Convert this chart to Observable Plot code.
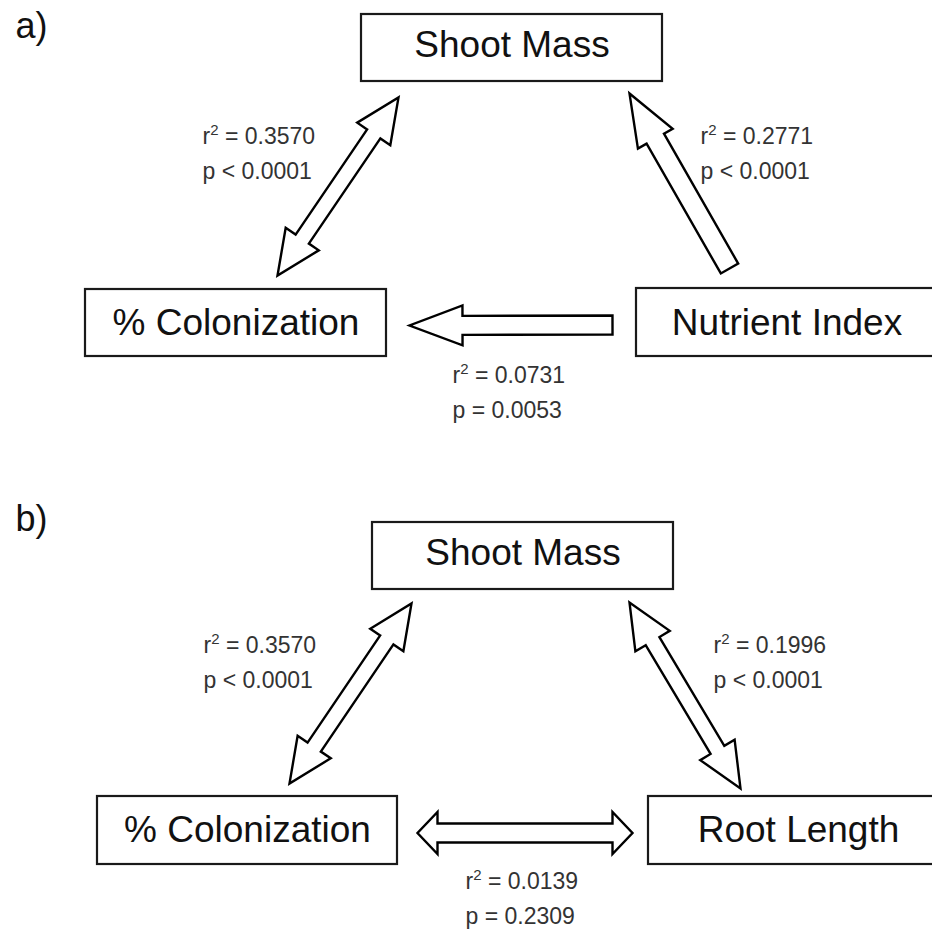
<!DOCTYPE html>
<html>
<head>
<meta charset="utf-8">
<script src="https://cdn.jsdelivr.net/npm/d3@7"></script>
<script src="https://cdn.jsdelivr.net/npm/@observablehq/plot@0.6"></script>
<style>
  html, body { margin: 0; padding: 0; background: #fff; overflow: hidden; }
</style>
</head>
<body>
<div id="chart"></div>
<script>
// ---- data ----
const panelLabels = ["a)", "b)"];
const nodesA = ["Shoot Mass", "% Colonization", "Nutrient Index"];
const nodesB = ["Shoot Mass", "% Colonization", "Root Length"];
// relationships: [left diagonal, right diagonal, bottom horizontal]
const r2A = ["0.3570", "0.2771", "0.0731"];
const pA  = ["< 0.0001", "< 0.0001", "= 0.0053"];
const r2B = ["0.3570", "0.1996", "0.0139"];
const pB  = ["< 0.0001", "< 0.0001", "= 0.2309"];

// ---- layout (pixel-space positions) ----
const panelPos = [[15, 37], [15, 530]];
const boxesA = [[361, 14, 662, 81], [85, 289, 386, 356], [636, 288, 937, 356]];
const boxesB = [[372, 522, 673, 589], [97, 796, 397, 864], [648, 796, 948, 864]];
const labelBaseA = [56, 334, 334];
const labelBaseB = [564, 841, 841];
// stat label: [x, baseline of r² line]
const statPosA = [[202, 143], [700, 143], [452, 382]];
const statPosB = [[203, 652], [713, 652], [465, 888]];
// arrows: start, end, headStart, headEnd, head length, head half-width, shaft half-width
const arrowsA = [
  {s: [277, 275], e: [398, 97], hs: true, he: true, L: 44, W: 20, h: 8},
  {s: [729, 268], e: [629, 93], hs: false, he: true, L: 52, W: 20, h: 10},
  {s: [612, 324.5], e: [409, 325], hs: false, he: true, L: 53, W: 20, h: 9.5}
];
const arrowsB = [
  {s: [289, 783], e: [411, 603], hs: true, he: true, L: 44, W: 20, h: 8},
  {s: [740, 788], e: [629, 602], hs: true, he: true, L: 45, W: 20, h: 8},
  {s: [417, 832.5], e: [632, 832.5], hs: true, he: true, L: 20, W: 21, h: 9.5}
];

// ---- build tables ----
const boxes = [];
const labels = [];
[[nodesA, boxesA, labelBaseA], [nodesB, boxesB, labelBaseB]].forEach(([names, bx, base]) => {
  names.forEach((name, i) => {
    const [x1, y1, x2, y2] = bx[i];
    boxes.push({x1, y1, x2, y2});
    labels.push({x: (x1 + x2) / 2, y: base[i], text: name});
  });
});

const r2Lines = [];
const pLines = [];
[[r2A, pA, statPosA], [r2B, pB, statPosB]].forEach(([r2, p, pos]) => {
  r2.forEach((v, i) => {
    const [x, y] = pos[i];
    r2Lines.push({x, y, text: "r2 = " + v, value: v});
    pLines.push({x, y: y + 35, text: "p " + p[i]});
  });
});

function arrowOutline(a, id) {
  const [sx, sy] = a.s, [ex, ey] = a.e;
  const len = Math.hypot(ex - sx, ey - sy);
  const ux = (ex - sx) / len, uy = (ey - sy) / len;
  const nx = -uy, ny = ux;
  const P = (bx, by, l, w) => ({x: bx + l * ux + w * nx, y: by + l * uy + w * ny, id});
  const pts = [];
  if (a.he) {
    pts.push(P(ex, ey, -a.L, -a.h), P(ex, ey, -a.L, -a.W), P(ex, ey, 0, 0), P(ex, ey, -a.L, a.W), P(ex, ey, -a.L, a.h));
  } else {
    pts.push(P(ex, ey, 0, -a.h), P(ex, ey, 0, a.h));
  }
  if (a.hs) {
    pts.push(P(sx, sy, a.L, a.h), P(sx, sy, a.L, a.W), P(sx, sy, 0, 0), P(sx, sy, a.L, -a.W), P(sx, sy, a.L, -a.h));
  } else {
    pts.push(P(sx, sy, 0, a.h), P(sx, sy, 0, -a.h));
  }
  return pts;
}
const arrowPts = [...arrowsA, ...arrowsB].flatMap((a, i) => arrowOutline(a, i));
const panels = panelLabels.map((t, i) => ({x: panelPos[i][0], y: panelPos[i][1], text: t}));

const chart = Plot.plot({
  width: 932,
  height: 932,
  margin: 0,
  x: {domain: [0, 932], range: [0, 932], axis: null},
  y: {domain: [0, 932], range: [0, 932], axis: null},
  style: {fontFamily: "'Liberation Sans', Arial, sans-serif", background: "#fff", color: "#000"},
  marks: [
    Plot.line(arrowPts, {x: "x", y: "y", z: "id", curve: "linear-closed", fill: "#fff", stroke: "#000", strokeWidth: 2.4, strokeLinejoin: "miter", strokeMiterlimit: 10}),
    Plot.rect(boxes, {x1: "x1", x2: "x2", y1: "y1", y2: "y2", fill: "#fff", stroke: "#1a1a1a", strokeWidth: 2.2}),
    Plot.text(labels, {x: "x", y: "y", text: "text", fontSize: 37, fill: "#111", textAnchor: "middle", lineAnchor: "bottom"}),
    Plot.text(r2Lines, {x: "x", y: "y", text: "text", fontSize: 23, fill: "#333", textAnchor: "start", lineAnchor: "bottom", className: "r2line"}),
    Plot.text(pLines, {x: "x", y: "y", text: "text", fontSize: 23, fill: "#333", textAnchor: "start", lineAnchor: "bottom"}),
    Plot.text(panels, {x: "x", y: "y", text: "text", fontSize: 36, fill: "#111", textAnchor: "start", lineAnchor: "bottom"})
  ]
});
document.getElementById("chart").appendChild(chart);

// typeset the superscript "2" in r² as a real raised tspan
d3.select(chart).selectAll(".r2line text").each(function(d, i) {
  const el = d3.select(this);
  const value = r2Lines[i].value;
  el.text(null);
  el.append("tspan").text("r");
  el.append("tspan").attr("font-size", 15).attr("dy", -9).text("2");
  el.append("tspan").attr("dy", 9).text(" = " + value);
});
</script>
</body>
</html>
